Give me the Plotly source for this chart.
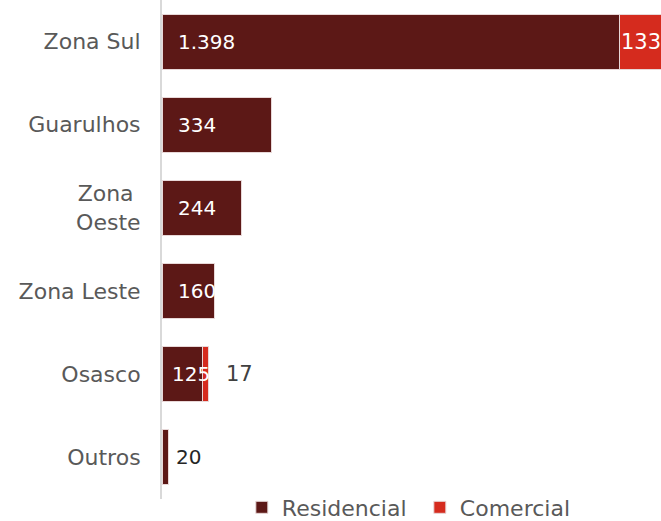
import plotly.graph_objects as go

categories = ["Zona Sul", "Guarulhos", "Zona Oeste", "Zona Leste", "Osasco", "Outros"]
tick_labels = ["Zona Sul", "Guarulhos", "Zona\u00a0<br>Oeste", "Zona Leste", "Osasco", "Outros"]
residencial = [1398, 334, 244, 160, 125, 20]
comercial = [133, 0, 0, 0, 17, 0]
res_labels = ["1.398", "334", "244", "160", "125", "20"]
com_labels = ["133", "", "", "", "17", ""]

FONT = "DejaVu Sans"
C_RES = "#5C1816"
C_COM = "#D52B1E"

fig = go.Figure()
fig.add_trace(go.Bar(
    y=categories, x=residencial, orientation="h", name="Residencial",
    marker=dict(color=C_RES, line=dict(color="#E8D8D8", width=1)),
))
fig.add_trace(go.Bar(
    y=categories, x=comercial, orientation="h", name="Comercial",
    marker=dict(color=C_COM, line=dict(color="#E8D8D8", width=1)),
))

anns = []
for cat, r, c, rl, cl in zip(categories, residencial, comercial, res_labels, com_labels):
    inside = r > 60
    anns.append(dict(x=0 if inside else r, y=cat, text=rl, xanchor="left", yanchor="middle",
                     xshift=(8 if r < 140 else 14) if inside else 5, showarrow=False,
                     font=dict(family=FONT, size=20, color="white" if inside else "#262626")))
    if cl:
        inside_c = c > 60
        anns.append(dict(x=r if inside_c else r + c, y=cat, text=cl, xanchor="left", yanchor="middle",
                         xshift=0 if inside_c else 16, showarrow=False,
                         font=dict(family=FONT, size=21, color="white" if inside_c else "#404040")))

fig.update_layout(
    barmode="stack", bargap=0.34,
    width=661, height=521,
    margin=dict(l=162, r=0, t=0, b=22, autoexpand=False),
    paper_bgcolor="white", plot_bgcolor="white",
    font=dict(family=FONT, color="#595959", size=22),
    annotations=anns,
    xaxis=dict(range=[0, 1526], visible=False, fixedrange=True),
    yaxis=dict(autorange="reversed", showline=True, linecolor="#D9D9D9", linewidth=2,
               tickmode="array", tickvals=categories, ticktext=tick_labels,
               ticks="", ticklabelstandoff=15, tickfont=dict(size=22, color="#595959"),
               showgrid=False, zeroline=False, fixedrange=True),
    legend=dict(orientation="h", x=0.16, xanchor="left", y=0.025, yanchor="top",
                font=dict(size=22, color="#595959"), traceorder="normal",
                entrywidth=133, bgcolor="rgba(0,0,0,0)", tracegroupgap=0),
    showlegend=True,
)

fig.write_html("out.html", config={"displayModeBar": False},
               post_script="document.body.style.margin='0';document.body.style.overflow='hidden';")
